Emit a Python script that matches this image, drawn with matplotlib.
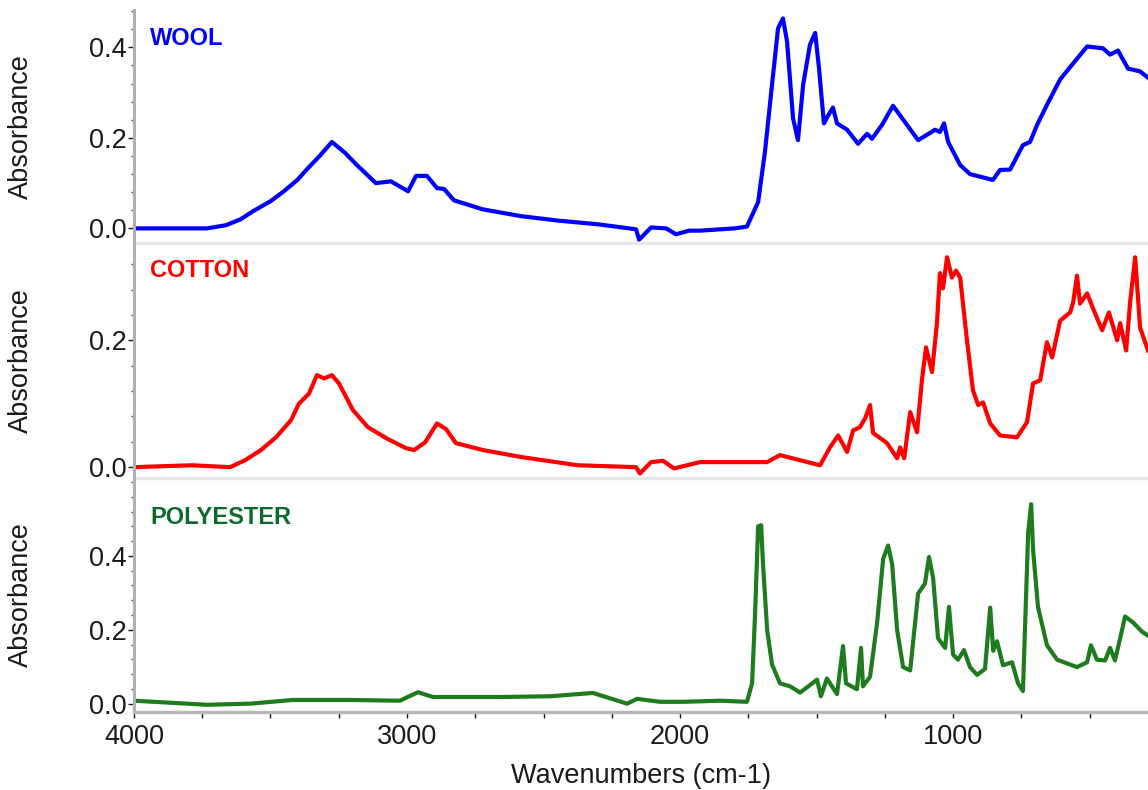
import matplotlib
matplotlib.use("Agg")
import matplotlib.pyplot as plt
from matplotlib.ticker import MultipleLocator

plt.rcParams['font.family'] = ['Liberation Sans', 'DejaVu Sans']

# wavenumber (cm-1) / absorbance
wool_wn = [4000, 3733, 3663, 3610, 3564, 3500, 3451, 3400, 3366, 3320, 3275, 3227, 3187,
           3114, 3059, 2996, 2967, 2927, 2890, 2864, 2828, 2722, 2582, 2443, 2300, 2161,
           2150, 2106, 2051, 2015, 1967, 1927, 1800, 1755, 1714, 1689, 1663, 1641, 1623,
           1608, 1586, 1568, 1549, 1524, 1505, 1491, 1473, 1458, 1440, 1425, 1388, 1348,
           1315, 1297, 1260, 1220, 1169, 1128, 1095, 1066, 1048, 1033, 1018, 974, 938, 854,
           828, 791, 744, 718, 692, 656, 608, 561, 509, 451, 425, 396, 359, 315, 286]
wool_abs = [0.0, 0.0, 0.007, 0.02, 0.038, 0.06, 0.082, 0.108, 0.131, 0.16, 0.191, 0.167,
            0.142, 0.10, 0.104, 0.082, 0.116, 0.116, 0.089, 0.087, 0.062, 0.042, 0.027,
            0.017, 0.009, -0.002, -0.025, 0.002, 0.0, -0.013, -0.005, -0.005, 0.0, 0.004,
            0.058, 0.169, 0.318, 0.442, 0.464, 0.413, 0.243, 0.195, 0.318, 0.406, 0.432,
            0.354, 0.232, 0.249, 0.267, 0.232, 0.218, 0.187, 0.209, 0.198, 0.229, 0.271,
            0.229, 0.195, 0.207, 0.218, 0.213, 0.232, 0.191, 0.14, 0.12, 0.107, 0.129,
            0.13, 0.184, 0.191, 0.229, 0.273, 0.329, 0.364, 0.402, 0.398, 0.384, 0.393,
            0.353, 0.347, 0.333]

cotton_wn = [4000, 3788, 3648, 3593, 3535, 3480, 3425, 3396, 3359, 3330, 3304, 3275, 3249,
             3198, 3143, 3073, 3004, 2974, 2934, 2890, 2857, 2821, 2722, 2582, 2374, 2161,
             2147, 2106, 2062, 2022, 1927, 1681, 1634, 1487, 1451, 1421, 1388, 1366, 1341,
             1322, 1304, 1293, 1242, 1205, 1194, 1179, 1157, 1132, 1114, 1099, 1077, 1059,
             1048, 1037, 1022, 1004, 989, 974, 949, 927, 908, 890, 864, 828, 766, 729, 707,
             681, 656, 637, 608, 571, 560, 546, 535, 509, 487, 454, 429, 399, 388, 366, 352,
             333, 315, 286]
cotton_abs = [0.0, 0.003, 0.0, 0.011, 0.027, 0.047, 0.074, 0.10, 0.116, 0.145, 0.14, 0.145,
              0.132, 0.09, 0.063, 0.045, 0.03, 0.027, 0.039, 0.069, 0.06, 0.038, 0.027,
              0.016, 0.003, 0.0, -0.01, 0.008, 0.01, -0.002, 0.008, 0.008, 0.019, 0.003,
              0.031, 0.05, 0.024, 0.058, 0.063, 0.077, 0.098, 0.054, 0.038, 0.014, 0.031,
              0.014, 0.087, 0.055, 0.137, 0.189, 0.15, 0.227, 0.306, 0.282, 0.331, 0.299,
              0.31, 0.299, 0.2, 0.121, 0.098, 0.102, 0.069, 0.05, 0.047, 0.071, 0.132,
              0.137, 0.197, 0.173, 0.231, 0.244, 0.26, 0.302, 0.258, 0.274, 0.25, 0.216,
              0.244, 0.2, 0.227, 0.184, 0.258, 0.331, 0.22, 0.184]

poly_wn = [4000, 3733, 3575, 3418, 3209, 3026, 2960, 2905, 2659, 2476, 2319, 2194, 2157,
           2073, 1989, 1853, 1755, 1736, 1725, 1714, 1703, 1696, 1681, 1663, 1634, 1597,
           1560, 1498, 1484, 1462, 1425, 1403, 1392, 1352, 1337, 1330, 1304, 1278, 1256,
           1238, 1223, 1205, 1183, 1157, 1128, 1103, 1088, 1073, 1055, 1029, 1015, 1000,
           982, 960, 938, 912, 883, 864, 853, 839, 817, 784, 762, 744, 725, 714, 707, 689,
           656, 619, 546, 509, 495, 473, 443, 425, 407, 388, 370, 341, 308, 286]
poly_abs = [0.008, -0.003, 0.0, 0.01, 0.01, 0.008, 0.031, 0.018, 0.018, 0.02, 0.029, 0.0,
            0.013, 0.005, 0.005, 0.008, 0.005, 0.055, 0.246, 0.48, 0.483, 0.377, 0.2,
            0.106, 0.055, 0.047, 0.03, 0.065, 0.02, 0.068, 0.026, 0.156, 0.055, 0.039,
            0.151, 0.047, 0.073, 0.22, 0.392, 0.428, 0.377, 0.2, 0.099, 0.09, 0.298, 0.325,
            0.397, 0.34, 0.177, 0.151, 0.262, 0.133, 0.119, 0.145, 0.099, 0.078, 0.094,
            0.26, 0.143, 0.169, 0.104, 0.112, 0.055, 0.034, 0.462, 0.54, 0.418, 0.262,
            0.158, 0.119, 0.099, 0.112, 0.158, 0.119, 0.117, 0.151, 0.117, 0.177, 0.236,
            0.22, 0.195, 0.184]

names = ["WOOL", "COTTON", "POLYESTER"]
line_colors = ["#0000ff", "#ff0000", "#1e7b1e"]
name_colors = ["#0000ff", "#ff0000", "#0b6a2a"]
ylims = [(-0.033, 0.482), (-0.017, 0.353), (-0.022, 0.611)]
yticks = [[0.0, 0.2, 0.4], [0.0, 0.2], [0.0, 0.2, 0.4]]
name_y = [0.88, 0.885, 0.83]

fig = plt.figure(figsize=(11.48, 7.90), dpi=100)
# panel boxes in figure fractions: [left, bottom, width, height]
boxes = [[0.1167, 0.692, 0.8833, 0.295],
         [0.1167, 0.395, 0.8833, 0.297],
         [0.1167, 0.099, 0.8833, 0.296]]

series = [(wool_wn, wool_abs), (cotton_wn, cotton_abs), (poly_wn, poly_abs)]
for i, (wn, ab) in enumerate(series):
    ax = fig.add_axes(boxes[i])
    ax.plot(wn, ab, color=line_colors[i], lw=3.0, solid_joinstyle='round')
    ax.set_xlim(4000, 286)
    ax.set_ylim(*ylims[i])
    ax.set_yticks(yticks[i])
    ax.set_yticklabels(["%.1f" % v for v in yticks[i]])
    ax.yaxis.set_minor_locator(MultipleLocator(0.04))
    ax.tick_params(axis='y', which='major', length=4, width=1, colors='#1a1a1a',
                   labelsize=19.5, pad=1)
    ax.tick_params(axis='y', which='minor', length=2, width=1, colors='#555555')
    ax.set_ylabel("Absorbance", fontsize=19.5, color='#1a1a1a')
    ax.yaxis.set_label_coords(-0.099, 0.5)
    for s in ['top', 'right']:
        ax.spines[s].set_visible(False)
    ax.spines['left'].set_color('#b0b0b0')
    ax.spines['left'].set_linewidth(2.2)
    ax.text(0.016, name_y[i], names[i], transform=ax.transAxes, fontsize=17,
            fontweight='bold', color=name_colors[i], va='center', ha='left')
    if i < 2:
        ax.spines['bottom'].set_color('#e6e6e6')
        ax.spines['bottom'].set_linewidth(2.5)
        ax.set_xticks([])
    else:
        ax.spines['bottom'].set_color('#b8b8b8')
        ax.spines['bottom'].set_linewidth(2.5)
        ax.set_xticks([4000, 3000, 2000, 1000])
        ax.xaxis.set_minor_locator(MultipleLocator(250))
        ax.tick_params(axis='x', which='both', length=4, width=1, colors='#1a1a1a',
                       labelsize=19.5, pad=5)
        ax.set_xlabel("Wavenumbers (cm-1)", fontsize=19.5, color='#1a1a1a', labelpad=9)
    ax.patch.set_alpha(0)

fig.savefig("out.png", dpi=100)
